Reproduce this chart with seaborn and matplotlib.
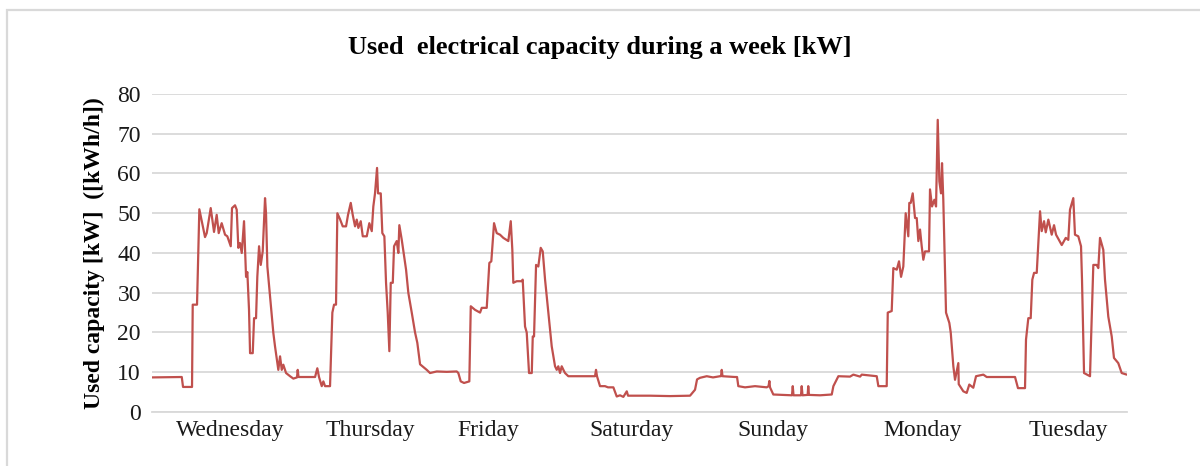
import matplotlib
matplotlib.use("Agg")
import matplotlib.pyplot as plt
from matplotlib.patches import Rectangle
import seaborn as sns
import pandas as pd

# ---- data (hour of week from Wednesday 00:00, used capacity in kW) ----
hours = [0.0, 5.12, 5.34, 6.89, 7.01, 7.75, 8.15, 9.13, 9.42, 10.11, 10.68, 11.14, 11.49, 12.0,
         12.58, 12.97, 13.56, 13.78, 14.3, 14.59, 14.87, 15.16, 15.46, 15.85, 16.2, 16.42, 16.71,
         16.89, 17.35, 17.58, 17.92, 18.14, 18.44, 18.73, 19.07, 19.47, 19.64, 19.87, 20.33, 20.9,
         21.19, 21.76, 22.06, 22.35, 22.62, 23.09, 23.78, 24.35, 24.98, 25.1, 25.24, 28.09, 28.48,
         28.77, 29.24, 29.52, 29.81, 30.67, 31.07, 31.36, 31.7, 31.93, 32.39,
         32.86, 33.43, 33.77, 34.24, 34.58, 34.98, 35.27, 35.55, 35.96, 36.31, 37.0, 37.44, 37.86,
         38.13, 38.42, 38.77, 38.94, 39.41, 39.68, 40.03, 40.32, 40.61, 40.89, 41.13, 41.48, 41.7,
         42.16, 42.44, 42.61, 43.03, 43.77, 44.16, 44.75, 45.32, 45.71, 46.18, 46.75, 47.33, 47.9,
         49.06, 50.78, 52.5, 52.78, 53.19, 53.76, 54.67, 54.92, 55.65, 56.52, 56.81, 57.67, 58.12,
         58.46, 58.93, 59.39, 59.96, 60.53, 61.39, 61.81, 62.08, 62.25, 62.84, 63.7, 63.87, 64.27,
         64.56, 64.96,
         65.43, 65.6, 65.82, 66.17, 66.56, 66.97, 67.32, 67.72, 68.28, 68.87, 69.44, 69.73, 70.0,
         70.3, 70.59, 70.88, 71.16, 71.73, 76.33, 76.5, 76.67, 77.19, 78.05, 78.57, 79.49, 80.07,
         80.64, 81.21, 81.8, 82.02, 85.81, 89.25, 92.7, 93.56, 93.91, 94.42, 95.58, 96.66, 97.87,
         98.04, 98.16, 98.3, 100.45, 100.8, 101.02, 102.18, 103.9, 105.92, 106.23, 106.37, 106.48,
         107.05, 109.93, 110.27, 110.4, 110.53, 111.82, 111.94, 112.08, 112.97, 113.07, 113.19,
         115.1, 117.12, 117.4, 118.26, 120.27, 120.84, 122.0, 122.29, 124.87, 125.15, 126.59,
         126.77, 127.45, 127.73, 128.32, 128.71, 129.06, 129.45, 129.86, 130.31, 130.48, 130.73,
         131.07, 131.47, 131.76, 132.04, 132.33, 132.62, 132.9, 133.19, 133.88, 134.05, 134.4,
         134.8, 135.09, 135.38, 135.66, 135.95, 136.12, 136.34, 136.81, 137.38, 137.62, 138.07,
         138.36, 138.93, 139.0, 139.79, 140.37, 140.82, 141.51, 141.98, 143.24, 143.82, 148.7,
         149.21, 150.42, 150.59, 150.99, 151.4, 151.68, 151.98, 152.44, 153.01, 153.3, 153.7,
         153.99, 154.44, 155.02, 155.42, 155.77, 156.75, 157.44, 157.88, 158.17, 158.74, 159.03,
         159.6, 160.07, 160.24, 160.59, 161.62, 161.8, 162.19, 162.77, 163.05, 163.34, 163.91,
         164.2, 164.77, 165.36, 165.75, 166.49, 167.08, 167.94]

kw = [8.7, 8.8, 6.3, 6.3, 27.0, 27.0, 51.0, 44.0, 45.0, 51.3, 45.3, 49.6, 45.0, 47.5,
      44.6, 44.2, 41.7, 51.3, 52.0, 50.9, 41.3, 42.5, 40.0, 48.0, 34.0, 35.2, 25.7,
      14.8, 14.8, 23.6, 23.6, 34.0, 41.7, 37.0, 40.4, 53.8, 50.0, 36.6, 29.0, 19.9,
      16.5, 10.6, 14.0, 10.6, 11.9, 9.8, 9.0, 8.4, 8.7, 10.6, 8.8, 8.8, 11.0,
      8.8, 6.5, 7.7, 6.5, 6.5, 25.0, 27.0, 27.0, 50.0, 48.5,
      46.7, 46.7, 49.6, 52.6, 49.6, 46.7, 48.4, 46.3, 48.0, 44.2, 44.2, 47.5, 45.5,
      51.7, 55.0, 61.4, 55.0, 55.0, 45.0, 44.2, 32.5, 25.0, 15.3, 32.5, 32.5, 41.7,
      43.0, 40.0, 47.0, 43.3, 35.8, 30.0, 25.0, 20.0, 17.4, 12.0, 11.3, 10.6, 9.8,
      10.2, 10.1, 10.2, 9.8, 7.7, 7.3, 7.7, 26.6, 25.7, 25.0, 26.2, 26.2, 37.5,
      37.9, 47.5, 45.0, 44.6, 43.8, 43.0, 48.0, 40.8, 32.5, 32.9, 32.9, 33.3, 21.5,
      20.0, 9.8,
      9.8, 19.0, 19.0, 37.0, 36.6, 41.3, 40.4, 33.3, 25.0, 16.5, 11.5, 10.6, 11.5,
      9.8, 11.5, 10.6, 9.8, 9.0, 9.0, 10.6, 9.0, 6.5, 6.5, 6.2, 6.2, 3.9,
      4.2, 3.8, 5.2, 4.1, 4.1, 4.0, 4.1, 5.6, 8.2, 8.6, 9.0, 8.7, 9.0,
      9.0, 10.6, 9.0, 8.8, 8.8, 6.5, 6.2, 6.5, 6.2, 6.5, 7.8, 6.2,
      4.4, 4.2, 4.2, 6.5, 4.2, 4.2, 6.5, 4.2, 4.3, 6.5, 4.3,
      4.2, 4.4, 6.5, 9.0, 8.9, 9.4, 8.9, 9.4, 9.0, 6.5, 6.5,
      25.0, 25.4, 36.2, 35.8, 37.9, 34.0, 36.6, 50.0, 44.2, 52.6, 52.6,
      55.0, 48.8, 48.8, 43.0, 45.9, 41.7, 38.3, 40.4, 40.4, 56.0, 51.7,
      53.4, 51.7, 73.5, 58.0, 55.0, 62.6, 53.4, 25.0, 22.4, 20.0, 11.5,
      8.1, 12.3, 7.0, 5.2, 4.8, 6.9, 6.1, 9.0, 9.4, 8.8, 8.8,
      6.0, 6.0, 18.2, 23.6, 23.6, 33.3, 35.0, 35.0, 50.5, 45.5, 48.0,
      45.2, 48.4, 44.6, 47.0, 44.6, 42.0, 43.8, 43.3, 50.9, 53.8, 44.6,
      44.2, 41.7, 33.3, 9.8, 9.0, 18.2, 37.0, 37.0, 36.2, 43.8, 40.8,
      33.3, 24.0, 19.0, 13.6, 12.3, 9.8, 9.4]

day_labels = ["Wednesday", "Thursday", "Friday", "Saturday", "Sunday", "Monday", "Tuesday"]
day_ticks = [13.44, 37.56, 57.89, 82.54, 107.0, 132.86, 157.85]
y_ticks = [0, 10, 20, 30, 40, 50, 60, 70, 80]

title = "Used  electrical capacity during a week [kW]"
ylabel = "Used capacity [kW]  ([kWh/h])"

df = pd.DataFrame({"hour": hours, "kW": kw})

sns.set_style("white")
plt.rcParams["font.family"] = ["Liberation Serif", "DejaVu Serif"]

fig = plt.figure(figsize=(12, 4.66), dpi=100)
ax = fig.add_axes([0.1267, 0.1159, 0.8125, 0.6824])

sns.lineplot(data=df, x="hour", y="kW", ax=ax, color="#C0504D", linewidth=1.6,
             estimator=None, sort=False)

ax.set_xlim(0, 168)
ax.set_ylim(0, 80)
ax.set_yticks(y_ticks)
ax.set_yticklabels([str(v) for v in y_ticks], fontsize=17, color="#1a1a1a")
ax.set_xticks(day_ticks)
ax.set_xticklabels(day_labels, fontsize=17, color="#1a1a1a")
ax.tick_params(axis="both", length=0)
ax.tick_params(axis="x", pad=6)
ax.tick_params(axis="y", pad=8)
ax.yaxis.grid(True, color="#D9D9D9", linewidth=1.3)
ax.xaxis.grid(False)
ax.set_axisbelow(True)
for s in ["left", "right", "top"]:
    ax.spines[s].set_visible(False)
ax.spines["bottom"].set_color("#D9D9D9")
ax.spines["bottom"].set_linewidth(1.3)

ax.set_xlabel("")
ax.set_ylabel(ylabel, fontsize=17, fontweight="bold", labelpad=6, color="black")
ax.yaxis.set_label_coords(-0.0485, 0.5)

fig.text(0.5, 0.897, title, ha="center", va="center", fontsize=19, fontweight="bold",
         color="black")

fig.patches.append(Rectangle((7 / 1200, -0.05), 1.1, 0.9785 + 0.05, transform=fig.transFigure,
                             fill=False, edgecolor="#D9D9D9", linewidth=1.6))

fig.savefig("out.png", dpi=100, facecolor="white")
